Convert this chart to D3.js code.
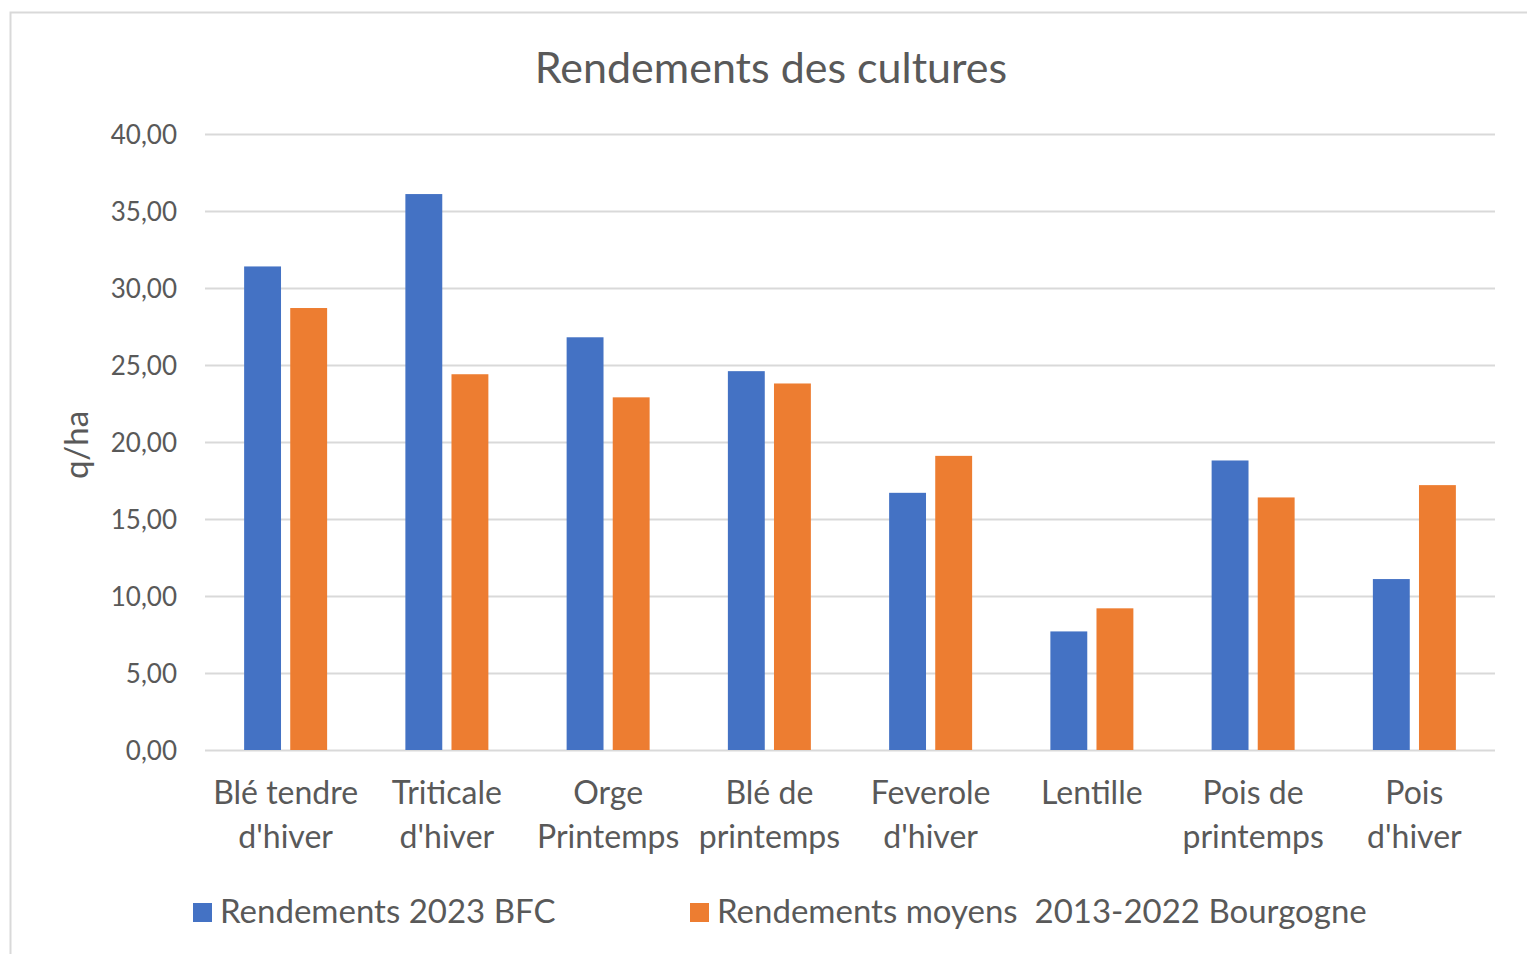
<!DOCTYPE html>
<html>
<head>
<meta charset="utf-8">
<script src="https://cdn.jsdelivr.net/npm/d3@7"></script>
<style>
  body { margin: 0; background: #fff; }
  svg text { font-family: Lato, "Open Sans", sans-serif; fill: #595959; }
</style>
</head>
<body>
<div id="chart"></div>
<script>
// categories (one array per label line)
const categories = ["Blé tendre d'hiver", "Triticale d'hiver", "Orge Printemps", "Blé de printemps",
  "Feverole d'hiver", "Lentille", "Pois de printemps", "Pois d'hiver"];
const categoryLines = [["Blé tendre", "d'hiver"], ["Triticale", "d'hiver"], ["Orge", "Printemps"],
  ["Blé de", "printemps"], ["Feverole", "d'hiver"], ["Lentille"], ["Pois de", "printemps"], ["Pois", "d'hiver"]];

const seriesNames = ["Rendements 2023 BFC", "Rendements moyens  2013-2022 Bourgogne"];
const rendements2023 = [31.4, 36.1, 26.8, 24.6, 16.7, 7.7, 18.8, 11.1];
const rendementsMoyens = [28.7, 24.4, 22.9, 23.8, 19.1, 9.2, 16.4, 17.2];
const yTicks = [0, 5, 10, 15, 20, 25, 30, 35, 40];
const colours = ["#4472C4", "#ED7D31"];

let width = 1527, height = 954;
let margin = { top: 134, right: 32, bottom: 204, left: 205 };
let plotW = width - margin.left - margin.right;
let plotH = height - margin.top - margin.bottom;

let svg = d3.select("#chart").append("svg")
    .attr("width", width)
    .attr("height", height);

// chart frame
svg.append("rect")
    .attr("x", 10.5).attr("y", 12.5)
    .attr("width", width).attr("height", height)
    .attr("fill", "none")
    .attr("stroke", "#d9d9d9")
    .attr("stroke-width", 2);

let data = categories.map(function (c, i) {
    return { name: c, lines: categoryLines[i], values: [rendements2023[i], rendementsMoyens[i]] };
});

let x = d3.scaleBand().domain(categories).range([0, plotW]);
let x1 = d3.scaleBand().domain([0, 1]).range([0, 83]).paddingInner(0.2);
let y = d3.scaleLinear().domain([0, 40]).range([plotH, 0]);

let g = svg.append("g")
    .attr("transform", "translate(" + margin.left + "," + margin.top + ")");

// gridlines
g.append("g")
    .attr("class", "grid")
    .call(d3.axisLeft(y).tickValues(yTicks).tickSize(-plotW).tickFormat(""))
    .call(function (s) {
        s.select(".domain").remove();
        s.selectAll("line").attr("stroke", "#d9d9d9").attr("stroke-width", 2);
    });

// y tick labels
g.append("g")
    .attr("class", "y axis")
    .call(d3.axisLeft(y).tickValues(yTicks).tickSize(0).tickPadding(28)
        .tickFormat(function (d) { return d3.format(".2f")(d).replace(".", ","); }))
    .call(function (s) {
        s.select(".domain").remove();
        s.selectAll("text").style("font-size", "26px").attr("dy", "0.36em")
            .attr("fill", "#595959");
    });

// bars
let offset = (x.bandwidth() - 83) / 2;
let group = g.selectAll(".cat")
    .data(data)
    .enter()
    .append("g")
    .attr("class", "cat")
    .attr("transform", function (d) { return "translate(" + (x(d.name) + offset) + ",0)"; });

group.selectAll("rect")
    .data(function (d) { return d.values; })
    .enter()
    .append("rect")
    .attr("x", function (d, i) { return x1(i); })
    .attr("width", x1.bandwidth())
    .attr("y", function (d) { return y(d); })
    .attr("height", function (d) { return plotH - y(d); })
    .attr("fill", function (d, i) { return colours[i]; });

// category labels
let labels = g.append("g").attr("class", "x axis")
    .selectAll("text")
    .data(data)
    .enter()
    .append("text")
    .attr("text-anchor", "middle")
    .attr("x", function (d) { return x(d.name) + x.bandwidth() / 2; })
    .attr("y", plotH + 54)
    .style("font-size", "32px");

labels.selectAll("tspan")
    .data(function (d) { return d.lines; })
    .enter()
    .append("tspan")
    .attr("x", function () { return d3.select(this.parentNode).attr("x"); })
    .attr("dy", function (d, i) { return i === 0 ? 0 : 44; })
    .text(function (d) { return d; });

// title
svg.append("text")
    .attr("x", 771)
    .attr("y", 83)
    .attr("text-anchor", "middle")
    .style("font-size", "43px")
    .text("Rendements des cultures");

// y axis title
svg.append("text")
    .attr("transform", "translate(88,445) rotate(-90)")
    .attr("text-anchor", "middle")
    .style("font-size", "33px")
    .text("q/ha");

// legend
let legendX = [193, 690];
let legend = svg.selectAll(".legend")
    .data(seriesNames)
    .enter()
    .append("g")
    .attr("class", "legend")
    .attr("transform", function (d, i) { return "translate(" + legendX[i] + ",903)"; });

legend.append("rect")
    .attr("width", 19).attr("height", 19)
    .attr("fill", function (d, i) { return colours[i]; });

legend.append("text")
    .attr("x", 27)
    .attr("y", 20)
    .style("font-size", "33px")
    .style("white-space", "pre")
    .text(function (d) { return d; });
</script>
</body>
</html>
